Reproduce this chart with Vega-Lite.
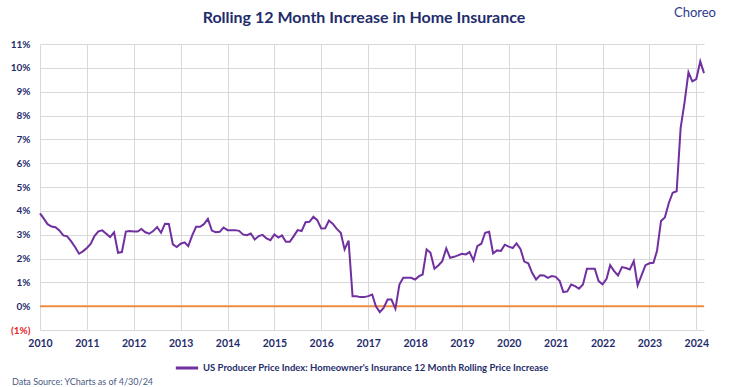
{
  "$schema": "https://vega.github.io/schema/vega-lite/v6.json",
  "width": 664,
  "height": 286,
  "autosize": {"type": "none"},
  "padding": {"left": 40, "top": 44, "right": 25, "bottom": 57},
  "background": "white",
  "title": {"text": "Rolling 12 Month Increase in Home Insurance", "font": "Lato", "fontSize": 16, "fontWeight": "bold", "color": "#1F2D6B", "offset": -19, "anchor": "middle", "dx": -8},
  "config": {"view": {"stroke": null}, "font": "Lato"},
  "layer": [
    {
      "data": {"values": [{"level": 0}]},
      "mark": {"type": "rule", "color": "#F08C44", "strokeWidth": 2},
      "encoding": {"y": {"field": "level", "type": "quantitative", "scale": {"domain": [-1, 11]},
          "axis": {"values": [-1, 0, 1, 2, 3, 4, 5, 6, 7, 8, 9, 10, 11], "tickCount": 20, "labelExpr": "datum.value < 0 ? '(' + abs(datum.value) + '%)' : datum.value + '%'", "labelColor": {"condition": {"test": "datum.value < 0", "value": "#E8262A"}, "value": "#1F2D6B"}, "grid": true, "gridColor": "#D9D9D9", "domain": false, "ticks": false, "labelFont": "Lato", "labelFontSize": 10, "labelFontWeight": "bold", "labelPadding": 10, "title": null, "labelOverlap": false}}}
    },
    {
      "data": {"values": [
        {"date": "2010-01-01", "value": 3.89}, {"date": "2010-02-01", "value": 3.66}, {"date": "2010-03-01", "value": 3.44}, {"date": "2010-04-01", "value": 3.34}, {"date": "2010-05-01", "value": 3.31}, {"date": "2010-06-01", "value": 3.18}, {"date": "2010-07-01", "value": 2.97}, {"date": "2010-08-01", "value": 2.93}, {"date": "2010-09-01", "value": 2.72}, {"date": "2010-10-01", "value": 2.48}, {"date": "2010-11-01", "value": 2.20}, {"date": "2010-12-01", "value": 2.30},
        {"date": "2011-01-01", "value": 2.44}, {"date": "2011-02-01", "value": 2.62}, {"date": "2011-03-01", "value": 2.94}, {"date": "2011-04-01", "value": 3.14}, {"date": "2011-05-01", "value": 3.18}, {"date": "2011-06-01", "value": 3.04}, {"date": "2011-07-01", "value": 2.90}, {"date": "2011-08-01", "value": 3.10}, {"date": "2011-09-01", "value": 2.24}, {"date": "2011-10-01", "value": 2.27}, {"date": "2011-11-01", "value": 3.13}, {"date": "2011-12-01", "value": 3.15},
        {"date": "2012-01-01", "value": 3.13}, {"date": "2012-02-01", "value": 3.13}, {"date": "2012-03-01", "value": 3.24}, {"date": "2012-04-01", "value": 3.10}, {"date": "2012-05-01", "value": 3.04}, {"date": "2012-06-01", "value": 3.15}, {"date": "2012-07-01", "value": 3.32}, {"date": "2012-08-01", "value": 3.08}, {"date": "2012-09-01", "value": 3.46}, {"date": "2012-10-01", "value": 3.45}, {"date": "2012-11-01", "value": 2.59}, {"date": "2012-12-01", "value": 2.48},
        {"date": "2013-01-01", "value": 2.62}, {"date": "2013-02-01", "value": 2.68}, {"date": "2013-03-01", "value": 2.52}, {"date": "2013-04-01", "value": 2.97}, {"date": "2013-05-01", "value": 3.33}, {"date": "2013-06-01", "value": 3.33}, {"date": "2013-07-01", "value": 3.44}, {"date": "2013-08-01", "value": 3.66}, {"date": "2013-09-01", "value": 3.17}, {"date": "2013-10-01", "value": 3.10}, {"date": "2013-11-01", "value": 3.12}, {"date": "2013-12-01", "value": 3.30},
        {"date": "2014-01-01", "value": 3.19}, {"date": "2014-02-01", "value": 3.19}, {"date": "2014-03-01", "value": 3.19}, {"date": "2014-04-01", "value": 3.16}, {"date": "2014-05-01", "value": 3.01}, {"date": "2014-06-01", "value": 2.98}, {"date": "2014-07-01", "value": 3.05}, {"date": "2014-08-01", "value": 2.80}, {"date": "2014-09-01", "value": 2.94}, {"date": "2014-10-01", "value": 2.99}, {"date": "2014-11-01", "value": 2.84}, {"date": "2014-12-01", "value": 2.77},
        {"date": "2015-01-01", "value": 3.01}, {"date": "2015-02-01", "value": 2.88}, {"date": "2015-03-01", "value": 2.97}, {"date": "2015-04-01", "value": 2.70}, {"date": "2015-05-01", "value": 2.70}, {"date": "2015-06-01", "value": 2.94}, {"date": "2015-07-01", "value": 3.19}, {"date": "2015-08-01", "value": 3.15}, {"date": "2015-09-01", "value": 3.52}, {"date": "2015-10-01", "value": 3.54}, {"date": "2015-11-01", "value": 3.75}, {"date": "2015-12-01", "value": 3.61},
        {"date": "2016-01-01", "value": 3.26}, {"date": "2016-02-01", "value": 3.27}, {"date": "2016-03-01", "value": 3.59}, {"date": "2016-04-01", "value": 3.45}, {"date": "2016-05-01", "value": 3.24}, {"date": "2016-06-01", "value": 3.08}, {"date": "2016-07-01", "value": 2.38}, {"date": "2016-08-01", "value": 2.75}, {"date": "2016-09-01", "value": 0.42}, {"date": "2016-10-01", "value": 0.42}, {"date": "2016-11-01", "value": 0.38}, {"date": "2016-12-01", "value": 0.38},
        {"date": "2017-01-01", "value": 0.42}, {"date": "2017-02-01", "value": 0.49}, {"date": "2017-03-01", "value": 0.00}, {"date": "2017-04-01", "value": -0.25}, {"date": "2017-05-01", "value": -0.07}, {"date": "2017-06-01", "value": 0.28}, {"date": "2017-07-01", "value": 0.28}, {"date": "2017-08-01", "value": -0.11}, {"date": "2017-09-01", "value": 0.91}, {"date": "2017-10-01", "value": 1.19}, {"date": "2017-11-01", "value": 1.19}, {"date": "2017-12-01", "value": 1.19},
        {"date": "2018-01-01", "value": 1.12}, {"date": "2018-02-01", "value": 1.26}, {"date": "2018-03-01", "value": 1.33}, {"date": "2018-04-01", "value": 2.38}, {"date": "2018-05-01", "value": 2.24}, {"date": "2018-06-01", "value": 1.57}, {"date": "2018-07-01", "value": 1.71}, {"date": "2018-08-01", "value": 1.89}, {"date": "2018-09-01", "value": 2.42}, {"date": "2018-10-01", "value": 2.03}, {"date": "2018-11-01", "value": 2.07}, {"date": "2018-12-01", "value": 2.13},
        {"date": "2019-01-01", "value": 2.20}, {"date": "2019-02-01", "value": 2.17}, {"date": "2019-03-01", "value": 2.27}, {"date": "2019-04-01", "value": 1.92}, {"date": "2019-05-01", "value": 2.52}, {"date": "2019-06-01", "value": 2.62}, {"date": "2019-07-01", "value": 3.08}, {"date": "2019-08-01", "value": 3.12}, {"date": "2019-09-01", "value": 2.21}, {"date": "2019-10-01", "value": 2.34}, {"date": "2019-11-01", "value": 2.32}, {"date": "2019-12-01", "value": 2.58},
        {"date": "2020-01-01", "value": 2.50}, {"date": "2020-02-01", "value": 2.44}, {"date": "2020-03-01", "value": 2.63}, {"date": "2020-04-01", "value": 2.40}, {"date": "2020-05-01", "value": 1.87}, {"date": "2020-06-01", "value": 1.80}, {"date": "2020-07-01", "value": 1.40}, {"date": "2020-08-01", "value": 1.12}, {"date": "2020-09-01", "value": 1.30}, {"date": "2020-10-01", "value": 1.29}, {"date": "2020-11-01", "value": 1.19}, {"date": "2020-12-01", "value": 1.26},
        {"date": "2021-01-01", "value": 1.23}, {"date": "2021-02-01", "value": 1.05}, {"date": "2021-03-01", "value": 0.59}, {"date": "2021-04-01", "value": 0.62}, {"date": "2021-05-01", "value": 0.91}, {"date": "2021-06-01", "value": 0.84}, {"date": "2021-07-01", "value": 0.73}, {"date": "2021-08-01", "value": 0.91}, {"date": "2021-09-01", "value": 1.57}, {"date": "2021-10-01", "value": 1.57}, {"date": "2021-11-01", "value": 1.57}, {"date": "2021-12-01", "value": 1.05},
        {"date": "2022-01-01", "value": 0.92}, {"date": "2022-02-01", "value": 1.15}, {"date": "2022-03-01", "value": 1.72}, {"date": "2022-04-01", "value": 1.47}, {"date": "2022-05-01", "value": 1.29}, {"date": "2022-06-01", "value": 1.64}, {"date": "2022-07-01", "value": 1.60}, {"date": "2022-08-01", "value": 1.54}, {"date": "2022-09-01", "value": 1.89}, {"date": "2022-10-01", "value": 0.87}, {"date": "2022-11-01", "value": 1.30}, {"date": "2022-12-01", "value": 1.72},
        {"date": "2023-01-01", "value": 1.80}, {"date": "2023-02-01", "value": 1.82}, {"date": "2023-03-01", "value": 2.32}, {"date": "2023-04-01", "value": 3.57}, {"date": "2023-05-01", "value": 3.72}, {"date": "2023-06-01", "value": 4.33}, {"date": "2023-07-01", "value": 4.76}, {"date": "2023-08-01", "value": 4.82}, {"date": "2023-09-01", "value": 7.48}, {"date": "2023-10-01", "value": 8.53}, {"date": "2023-11-01", "value": 9.81}, {"date": "2023-12-01", "value": 9.43},
        {"date": "2024-01-01", "value": 9.53}, {"date": "2024-02-01", "value": 10.27}, {"date": "2024-03-01", "value": 9.78}
      ]},
      "mark": {"type": "line", "strokeWidth": 2},
      "encoding": {
        "x": {"field": "date", "type": "temporal", "scale": {"domain": ["2010-01-01", "2024-03-01"]},
          "axis": {"format": "%Y", "tickCount": {"interval": "year", "step": 1}, "grid": true, "gridColor": "#D9D9D9", "domain": false, "ticks": false, "labelFont": "Lato", "labelFontSize": 10.5, "labelFontWeight": "bold", "labelColor": "#1F2D6B", "labelPadding": 8, "title": null, "labelFlush": false, "labelOverlap": false}},
        "y": {"field": "value", "type": "quantitative", "scale": {"domain": [-1, 11]},
          "axis": {"values": [-1, 0, 1, 2, 3, 4, 5, 6, 7, 8, 9, 10, 11], "tickCount": 20, "labelExpr": "datum.value < 0 ? '(' + abs(datum.value) + '%)' : datum.value + '%'", "labelColor": {"condition": {"test": "datum.value < 0", "value": "#E8262A"}, "value": "#1F2D6B"}, "grid": true, "gridColor": "#D9D9D9", "domain": false, "ticks": false, "labelFont": "Lato", "labelFontSize": 10, "labelFontWeight": "bold", "labelPadding": 10, "title": null, "labelOverlap": false}},
        "color": {"datum": "US Producer Price Index: Homeowner's Insurance 12 Month Rolling Price Increase", "scale": {"range": ["#7030A0"]},
          "legend": {"title": null, "orient": "none", "legendX": 134, "legendY": 311, "direction": "horizontal", "symbolType": "stroke", "symbolStrokeWidth": 3, "symbolSize": 500, "labelOffset": 3, "labelFont": "Lato", "labelFontSize": 9.5, "labelFontWeight": "bold", "labelColor": "#1F2D6B", "labelLimit": 700}}
      }
    },
    {
      "data": {"values": [{"label": "Choreo"}]},
      "mark": {"type": "text", "font": "Lato", "fontSize": 13, "color": "#2E3A8F", "align": "right", "baseline": "middle", "dx": 12},
      "encoding": {
        "x": {"datum": {"year": 2024, "month": 3, "date": 1}, "type": "temporal"},
        "y": {"datum": 12.3, "type": "quantitative"},
        "text": {"field": "label"}
      }
    },
    {
      "data": {"values": [{"label": "Data Source: YCharts as of 4/30/24"}]},
      "mark": {"type": "text", "font": "Lato", "fontSize": 9, "color": "#4A5A85", "align": "left", "baseline": "middle", "dx": -28},
      "encoding": {
        "x": {"datum": {"year": 2010, "month": 1, "date": 1}, "type": "temporal"},
        "y": {"datum": -3.2, "type": "quantitative"},
        "text": {"field": "label"}
      }
    }
  ]
}
